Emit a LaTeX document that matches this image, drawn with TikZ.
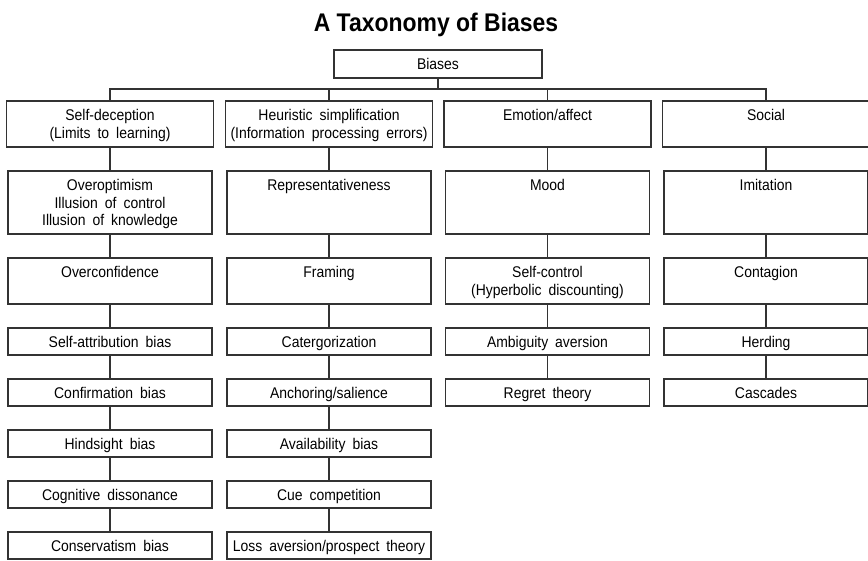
\documentclass[tikz,border=0pt]{standalone}
\usepackage{fontspec}
\setmainfont{Liberation Sans}[FakeStretch=0.9,WordSpace=1.8]
\newfontfamily\titlefont{Liberation Sans}[FakeStretch=0.9]
\usetikzlibrary{positioning}
\newcommand\bx[1]{\begin{tabular}{@{}c@{}}\noalign{\vskip4pt}#1\end{tabular}}
\newcommand\pad{\\\mbox{}}

\begin{document}
\begin{tikzpicture}[x=1pt,y=-1pt,node distance=24pt,
  box/.style={draw=black!80,line width=1.1pt,outer sep=0pt,minimum width=204pt,minimum height=27pt,inner sep=0pt,font=\fontsize{15.5}{17.5}\selectfont},
  cat/.style={box,minimum width=207pt,minimum height=46pt},
  tall/.style={box,minimum height=#1},
  link/.style={draw=black!80,line width=1.1pt}]
\useasboundingbox (0,0) rectangle (868,560);
\node[anchor=base,font=\titlefont\bfseries\fontsize{25.5}{30}\selectfont] (title) at (436,31.5) {A Taxonomy of Biases};
\node[box,minimum width=208pt,minimum height=28pt] (biases) at (438,64) {\bx{Biases}};
% the four families
\node[cat] (sd) at (110,124) {\bx{Self-deception\\(Limits to learning)}};
\node[cat] (hs) at (329,124) {\bx{Heuristic simplification\\(Information processing errors)}};
\node[cat] (emo) at (547.5,124) {\bx{Emotion/affect\pad}};
\node[cat] (soc) at (766,124) {\bx{Social\pad}};
% self-deception
\node[tall=63pt,below=of sd] (sd1) {\bx{Overoptimism\\Illusion of control\\Illusion of knowledge}};
\node[tall=46pt,below=of sd1] (sd2) {\bx{Overconfidence\pad}};
\node[box,below=of sd2] (sd3) {\bx{Self-attribution bias}};
\node[box,below=of sd3] (sd4) {\bx{Confirmation bias}};
\node[box,below=of sd4] (sd5) {\bx{Hindsight bias}};
\node[box,below=of sd5] (sd6) {\bx{Cognitive dissonance}};
\node[box,below=of sd6] (sd7) {\bx{Conservatism bias}};
% heuristic simplification
\node[tall=63pt,below=of hs] (hs1) {\bx{Representativeness\pad\pad}};
\node[tall=46pt,below=of hs1] (hs2) {\bx{Framing\pad}};
\node[box,below=of hs2] (hs3) {\bx{Catergorization}};
\node[box,below=of hs3] (hs4) {\bx{Anchoring/salience}};
\node[box,below=of hs4] (hs5) {\bx{Availability bias}};
\node[box,below=of hs5] (hs6) {\bx{Cue competition}};
\node[box,below=of hs6] (hs7) {\bx{Loss aversion/prospect theory}};
% emotion
\node[tall=63pt,below=of emo] (emo1) {\bx{Mood\pad\pad}};
\node[tall=46pt,below=of emo1] (emo2) {\bx{Self-control\\(Hyperbolic discounting)}};
\node[box,below=of emo2] (emo3) {\bx{Ambiguity aversion}};
\node[box,below=of emo3] (emo4) {\bx{Regret theory}};
% social
\node[tall=63pt,below=of soc] (soc1) {\bx{Imitation\pad\pad}};
\node[tall=46pt,below=of soc1] (soc2) {\bx{Contagion\pad}};
\node[box,below=of soc2] (soc3) {\bx{Herding}};
\node[box,below=of soc3] (soc4) {\bx{Cascades}};
% tree
\draw[link] (biases.south) -- ++(0,11) coordinate (hub);
\draw[link] (sd.north) |- (hub) -| (soc.north);
\draw[link] (hs.north) -- (hs.north|-hub) (emo.north) -- (emo.north|-hub);
\draw[link] (sd)--(sd1) (sd1)--(sd2) (sd2)--(sd3) (sd3)--(sd4) (sd4)--(sd5) (sd5)--(sd6) (sd6)--(sd7);
\draw[link] (hs)--(hs1) (hs1)--(hs2) (hs2)--(hs3) (hs3)--(hs4) (hs4)--(hs5) (hs5)--(hs6) (hs6)--(hs7);
\draw[link] (emo)--(emo1) (emo1)--(emo2) (emo2)--(emo3) (emo3)--(emo4);
\draw[link] (soc)--(soc1) (soc1)--(soc2) (soc2)--(soc3) (soc3)--(soc4);
\end{tikzpicture}
\end{document}
